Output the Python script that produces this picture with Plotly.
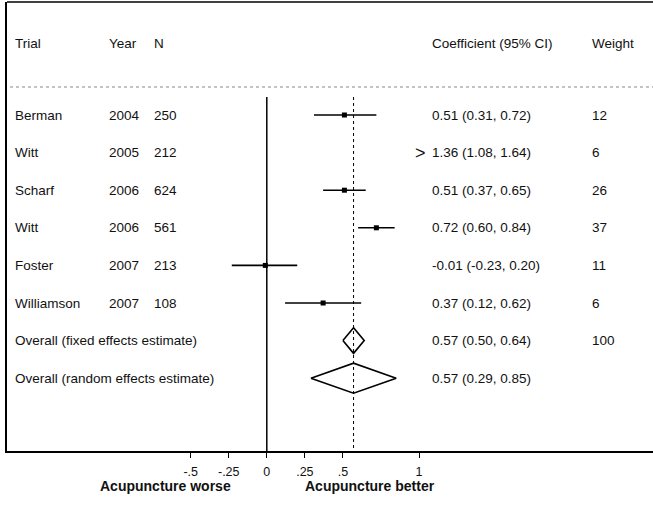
import plotly.graph_objects as go

# ---- data ----
trials = ["Berman", "Witt", "Scharf", "Witt", "Foster", "Williamson"]
years = ["2004", "2005", "2006", "2006", "2007", "2007"]
ns = ["250", "212", "624", "561", "213", "108"]
coef = [0.51, 1.36, 0.51, 0.72, -0.01, 0.37]
ci_lo = [0.31, 1.08, 0.37, 0.60, -0.23, 0.12]
ci_hi = [0.72, 1.64, 0.65, 0.84, 0.20, 0.62]
weights = ["12", "6", "26", "37", "11", "6"]
pooled_labels = ["Overall (fixed effects estimate)", "Overall (random effects estimate)"]
pooled_est = [0.57, 0.57]
pooled_lo = [0.50, 0.29]
pooled_hi = [0.64, 0.85]
pooled_weight = ["100", ""]
tick_vals = [-0.5, -0.25, 0, 0.25, 0.5, 1]
tick_text = ["-.5", "-.25", "0", ".25", ".5", "1"]
headers = ["Trial", "Year", "N", "Coefficient (95% CI)", "Weight"]
axis_min_label = "Acupuncture worse"
axis_max_label = "Acupuncture better"
x_clip = 1.0  # estimates beyond this are shown as '>'

# ---- layout helpers ----
W, H = 653, 505
ML, MR, MT, MB = 7, 0, 2, 54
PX0 = 266.8      # pixel of x=0
PPU = 152.2      # pixels per unit
xmin = -(PX0 - ML) / PPU
xmax = xmin + (W - ML - MR) / PPU


def px2x(px):
    return (px - PX0) / PPU


ROW0_PX, ROW_STEP = 115.0, 37.6
ytop = 1 - (ROW0_PX - MT) / ROW_STEP
ybot = 1 + (H - MB - ROW0_PX) / ROW_STEP
header_row = 1 - (ROW0_PX - 43) / ROW_STEP
sep_row = 1 - (ROW0_PX - 87) / ROW_STEP
vline_start = 1 - (ROW0_PX - 97) / ROW_STEP

col_px = [13, 107, 152, 430, 590]
FONT = dict(family="Arial, Liberation Sans, sans-serif", size=13.5, color="#111")

fig = go.Figure()

rows = list(range(1, len(trials) + 1))
for r, c, lo, hi in zip(rows, coef, ci_lo, ci_hi):
    if c > x_clip:
        continue
    fig.add_trace(go.Scatter(x=[lo, hi], y=[r, r], mode="lines",
                             line=dict(color="black", width=1.6),
                             hoverinfo="skip", showlegend=False))
vis = [(r, c) for r, c in zip(rows, coef) if c <= x_clip]
fig.add_trace(go.Scatter(x=[c for r, c in vis], y=[r for r, c in vis], mode="markers",
                         marker=dict(symbol="square", size=5, color="black"),
                         showlegend=False))

prow = [len(trials) + 1 + i for i in range(len(pooled_est))]
half_h = [0.34, 0.40]
for r, e, lo, hi, hh in zip(prow, pooled_est, pooled_lo, pooled_hi, half_h):
    fig.add_trace(go.Scatter(x=[lo, e, hi, e, lo], y=[r, r - hh, r, r + hh, r],
                             mode="lines", line=dict(color="black", width=1.6),
                             hoverinfo="skip", showlegend=False))

# reference lines
fig.add_shape(type="line", xref="x", yref="y", x0=0, x1=0, y0=vline_start, y1=ybot,
              line=dict(color="black", width=1.5))
fig.add_shape(type="line", xref="x", yref="y", x0=pooled_est[0], x1=pooled_est[0],
              y0=vline_start, y1=ybot, line=dict(color="black", width=1, dash="dot"))
fig.add_shape(type="line", xref="x", yref="y", x0=px2x(10), x1=xmax, y0=sep_row, y1=sep_row,
              line=dict(color="#888", width=1, dash="dot"))
# top frame line
fig.add_shape(type="line", xref="paper", yref="paper", x0=0, x1=1, y0=1, y1=1,
              line=dict(color="black", width=1.6))

ann = []


def add_text(px, row, text, size=None, anchor="left"):
    f = dict(FONT)
    if size:
        f["size"] = size
    ann.append(dict(x=px2x(px), y=row, xref="x", yref="y", text=text, showarrow=False,
                    xanchor=anchor, yanchor="middle", font=f))


for p, h in zip(col_px, headers):
    add_text(p, header_row, h)

for r, t, yv, n, c, lo, hi, w in zip(rows, trials, years, ns, coef, ci_lo, ci_hi, weights):
    add_text(col_px[0], r, t)
    add_text(col_px[1], r, yv)
    add_text(col_px[2], r, n)
    add_text(col_px[3], r, f"{c:.2f} ({lo:.2f}, {hi:.2f})")
    add_text(col_px[4], r, w)
    if c > x_clip:
        add_text(420, r, ">", size=18, anchor="center")

for r, lab, e, lo, hi, w in zip(prow, pooled_labels, pooled_est, pooled_lo, pooled_hi, pooled_weight):
    add_text(col_px[0], r, lab)
    add_text(col_px[3], r, f"{e:.2f} ({lo:.2f}, {hi:.2f})")
    if w:
        add_text(col_px[4], r, w)

lab_font = dict(FONT, size=14)
ann.append(dict(x=px2x(165), y=-0.077, xref="x", yref="paper", text=f"<b>{axis_min_label}</b>",
                showarrow=False, xanchor="center", yanchor="middle", font=lab_font))
ann.append(dict(x=px2x(370), y=-0.077, xref="x", yref="paper", text=f"<b>{axis_max_label}</b>",
                showarrow=False, xanchor="center", yanchor="middle", font=lab_font))

fig.update_layout(
    width=W, height=H,
    margin=dict(l=ML, r=MR, t=MT, b=MB),
    paper_bgcolor="white", plot_bgcolor="white",
    annotations=ann,
    xaxis=dict(range=[xmin, xmax], showgrid=False, zeroline=False,
               showline=True, linecolor="black", linewidth=1.6, mirror=False,
               ticks="outside", ticklen=5, tickwidth=1.2, tickcolor="black",
               tickvals=tick_vals, ticktext=tick_text,
               tickfont=dict(FONT, size=12.5), ticklabelstandoff=3),
    yaxis=dict(range=[ybot, ytop], showgrid=False, zeroline=False,
               showline=True, linecolor="black", linewidth=1.6, mirror=False,
               showticklabels=False, ticks=""),
)

fig.write_html("out.html", config={"displayModeBar": False},
               post_script="document.body.style.margin='0';document.body.style.overflow='hidden';")
